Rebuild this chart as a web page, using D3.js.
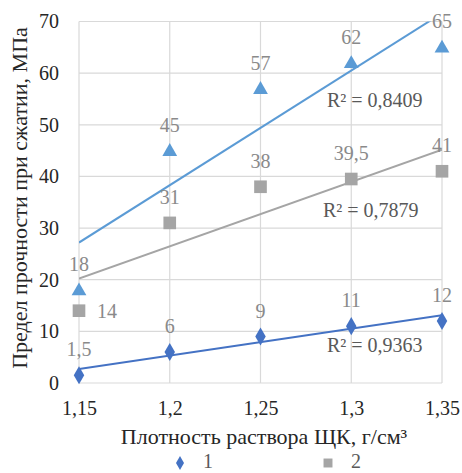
<!DOCTYPE html>
<html>
<head>
<meta charset="utf-8">
<script src="https://cdn.jsdelivr.net/npm/d3@7/dist/d3.min.js"></script>
</head>
<body style="margin:0">
<svg id="chart" width="462" height="473"></svg>
<script>
// Density of the alkaline activator solution, g/cm³
const density = [1.15, 1.2, 1.25, 1.3, 1.35];
const densityLabels = ["1,15", "1,2", "1,25", "1,3", "1,35"];

// Compressive strength, MPa
const series1 = [1.5, 6, 9, 11, 12];
const series2 = [14, 31, 38, 39.5, 41];
const series3 = [18, 45, 57, 62, 65];
const seriesNames = ["1", "2", "3"];

const yTicks = [0, 10, 20, 30, 40, 50, 60, 70];

const svg = d3.select("#chart");

const x = d3.scaleLinear().domain([1.15, 1.35]).range([79, 442]);
const y = d3.scaleLinear().domain([0, 70]).range([383, 21.5]);

const fmt = v => String(v).replace(".", ",");
const face = size => sel => sel.style("font-family", "'Liberation Serif'").attr("font-size", size);

// Grid
const grid = svg.append("g");
grid.selectAll("line.h").data(yTicks).join("line")
  .attr("x1", x(1.15)).attr("x2", x(1.35))
  .attr("y1", d => y(d)).attr("y2", d => y(d))
  .attr("stroke", "#d9d9d9").attr("stroke-width", 1.2);
grid.selectAll("line.v").data(density).join("line")
  .attr("x1", d => x(d)).attr("x2", d => x(d))
  .attr("y1", y(0)).attr("y2", y(70))
  .attr("stroke", "#d9d9d9").attr("stroke-width", 1.2);

// Axes (tick text only; the lines come from the grid)
const yAxis = svg.append("g").attr("transform", `translate(${x(1.15)},0)`)
  .call(d3.axisLeft(y).tickValues(yTicks).tickSize(0).tickPadding(20).tickFormat(d3.format("d")));
yAxis.select(".domain").remove();
yAxis.selectAll("text").call(face(20)).attr("fill", "#262626");

const xAxis = svg.append("g").attr("transform", `translate(0,${y(0)})`)
  .call(d3.axisBottom(x).tickValues(density).tickSize(0).tickPadding(18)
    .tickFormat((d, i) => densityLabels[i]));
xAxis.select(".domain").remove();
xAxis.selectAll("text").call(face(20)).attr("fill", "#262626");

// Axis titles
svg.append("text")
  .attr("x", 264).attr("y", 444)
  .attr("text-anchor", "middle").attr("fill", "#262626")
  .call(face(22))
  .text("Плотность раствора ЩК, г/см³");
svg.append("text")
  .attr("transform", "translate(27,198) rotate(-90)")
  .attr("text-anchor", "middle").attr("fill", "#262626")
  .call(face(22))
  .text("Предел прочности при сжатии, МПа");

// Least-squares line and R²
function fit(xs, ys) {
  const mx = d3.mean(xs), my = d3.mean(ys);
  let sxy = 0, sxx = 0, syy = 0;
  xs.forEach((xv, i) => {
    sxy += (xv - mx) * (ys[i] - my);
    sxx += (xv - mx) ** 2;
    syy += (ys[i] - my) ** 2;
  });
  const b = sxy / sxx, a = my - b * mx;
  return { a, b, r2: (sxy * sxy) / (sxx * syy) };
}

svg.append("clipPath").attr("id", "plotClip")
  .append("rect").attr("x", x(1.15)).attr("y", y(70))
  .attr("width", x(1.35) - x(1.15)).attr("height", y(0) - y(70));

const series = [
  { values: series1, color: "#4472C4", shape: d3.symbolDiamond, size: 95, r2pos: [327, 352] },
  { values: series2, color: "#A5A5A5", shape: d3.symbolSquare, size: 160, r2pos: [323, 217] },
  { values: series3, color: "#5B9BD5", shape: d3.symbolTriangle, size: 95, r2pos: [327, 107] }
];

// Trend lines
series.forEach(s => {
  const f = fit(density, s.values);
  s.fit = f;
  svg.append("line")
    .attr("clip-path", "url(#plotClip)")
    .attr("x1", x(1.15)).attr("y1", y(f.a + f.b * 1.15))
    .attr("x2", x(1.35)).attr("y2", y(f.a + f.b * 1.35))
    .attr("stroke", s.color).attr("stroke-width", 2);
});

// Markers
series.forEach(s => {
  svg.append("g").selectAll("path").data(s.values).join("path")
    .attr("d", d3.symbol().type(s.shape).size(s.size))
    .attr("transform", (d, i) => `translate(${x(density[i])},${y(d)})` +
      (s.shape === d3.symbolTriangle ? " translate(0,1)" : ""))
    .attr("fill", s.color);
});

// Data labels
const labelColor = "#8a8a8a";
series.forEach((s, si) => {
  svg.append("g").selectAll("text").data(s.values).join("text")
    .attr("x", (d, i) => (si === 1 && i === 0) ? x(density[i]) + 28 : x(density[i]))
    .attr("y", (d, i) => (si === 1 && i === 0) ? y(d) + 7 : y(d) - 19)
    .attr("text-anchor", "middle")
    .attr("fill", labelColor)
    .call(face(20))
    .text(d => fmt(d));
});

// R² labels
series.forEach(s => {
  svg.append("text")
    .attr("x", s.r2pos[0]).attr("y", s.r2pos[1])
    .attr("fill", "#595959")
    .call(face(20))
    .text("R² = " + s.fit.r2.toFixed(4).replace(".", ","));
});

// Legend
const legendItems = [
  { name: seriesNames[0], color: "#4472C4", shape: d3.symbolDiamond, size: 55, x: 180 },
  { name: seriesNames[1], color: "#A5A5A5", shape: d3.symbolSquare, size: 80, x: 328 }
];
const lg = svg.append("g");
legendItems.forEach(it => {
  lg.append("path")
    .attr("d", d3.symbol().type(it.shape).size(it.size))
    .attr("transform", `translate(${it.x},463)`)
    .attr("fill", it.color);
  lg.append("text")
    .attr("x", it.x + 23).attr("y", 468)
    .attr("fill", "#595959")
    .call(face(20))
    .text(it.name);
});
</script>
</body>
</html>
